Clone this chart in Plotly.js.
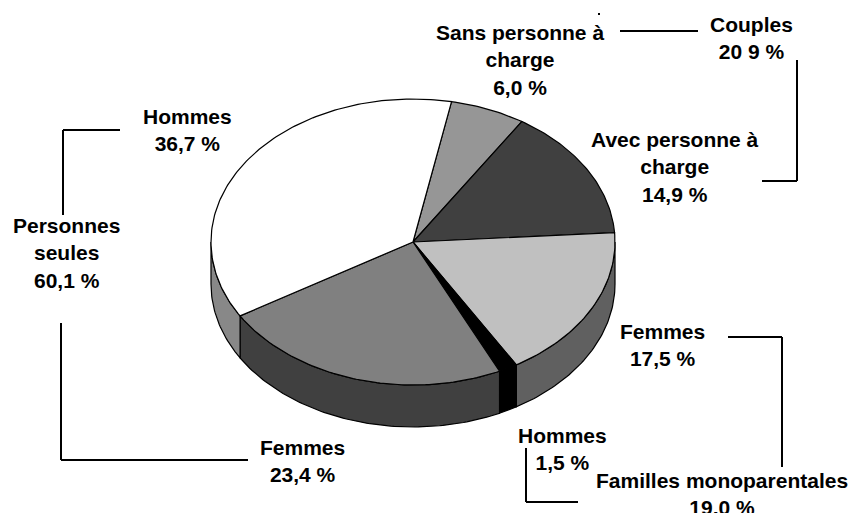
<!DOCTYPE html>
<html>
<head>
<meta charset="utf-8">
<script src="https://cdn.plot.ly/plotly-3.0.1.min.js"></script>
<style>html,body{margin:0;padding:0;background:#fff;}#chart{width:853px;height:513px;}</style>
</head>
<body>
<div id="chart"></div>
<script>
// ---- data ----
const sliceLabels = ["Sans personne à<br>charge", "Avec personne à<br>charge", "Femmes", "Hommes", "Femmes", "Hommes"];
const sliceValues = [6.0, 14.9, 17.5, 1.5, 23.4, 36.7];
const groupLabels = ["Couples", "Familles monoparentales", "Personnes seules"];
const groupValueTexts = ["20 9 %", "19,0 %", "60,1 %"];

// ---- styles / geometry ----
const topColors  = ["#969696", "#404040", "#c0c0c0", "#000000", "#808080", "#ffffff"];
const sideColors = ["#4b4b4b", "#202020", "#606060", "#000000", "#404040", "#888888"];
const cx = 413, cy = 242, rx = 202, ry = 143, depth = 42, startDeg = 11;
const labelPos = [[520, 60], [675, 167], [662, 345], [562, 449], [302, 461], [187, 130]];
const groupPos = [[751, 38], [722, 494], [66, 253]];

function pt(deg, dy) {
  const r = deg * Math.PI / 180;
  return [cx + rx * Math.sin(r), cy - ry * Math.cos(r) + (dy || 0)];
}
const total = sliceValues.reduce((a, b) => a + b, 0);
const bounds = [];
let acc = startDeg;
sliceValues.forEach(v => { const a0 = acc; acc += v / total * 360; bounds.push([a0, acc]); });

const traces = [];
// side faces (front half visible: 90..270 deg)
bounds.forEach((b, i) => {
  const a0 = Math.max(b[0], 90), a1 = Math.min(b[1], 270);
  if (a1 <= a0) return;
  const xs = [], ys = [];
  const n = Math.max(2, Math.ceil((a1 - a0) / 1));
  for (let k = 0; k <= n; k++) { const p = pt(a0 + (a1 - a0) * k / n); xs.push(p[0]); ys.push(p[1]); }
  for (let k = n; k >= 0; k--) { const p = pt(a0 + (a1 - a0) * k / n, depth); xs.push(p[0]); ys.push(p[1]); }
  xs.push(xs[0]); ys.push(ys[0]);
  traces.push({type: "scatter", mode: "lines", x: xs, y: ys, fill: "toself", fillcolor: sideColors[i],
    line: {color: "#000", width: 1.2}, hoverinfo: "skip", showlegend: false});
});
// top faces
bounds.forEach((b, i) => {
  const xs = [cx], ys = [cy];
  const n = Math.max(2, Math.ceil((b[1] - b[0]) / 1));
  for (let k = 0; k <= n; k++) { const p = pt(b[0] + (b[1] - b[0]) * k / n); xs.push(p[0]); ys.push(p[1]); }
  xs.push(cx); ys.push(cy);
  traces.push({type: "scatter", mode: "lines", x: xs, y: ys, fill: "toself", fillcolor: topColors[i],
    line: {color: "#000", width: 1.2}, hoverinfo: "skip", showlegend: false});
});

const fmt = v => v.toFixed(1).replace(".", ",") + " %";
const font = {family: "Liberation Sans, Arial, sans-serif", size: 21, color: "#000"};
const annotations = [];
sliceLabels.forEach((l, i) => annotations.push({x: labelPos[i][0], y: labelPos[i][1], xref: "x", yref: "y",
  text: "<b>" + l + "<br>" + fmt(sliceValues[i]) + "</b>", showarrow: false, xanchor: "center", yanchor: "middle", font: font}));
groupLabels.forEach((l, i) => annotations.push({x: groupPos[i][0], y: groupPos[i][1], xref: "x", yref: "y",
  text: "<b>" + l.replace("Personnes ", "Personnes<br>") + "<br>" + groupValueTexts[i] + "</b>", showarrow: false,
  xanchor: "center", yanchor: "middle", font: font}));

const ln = {color: "#000", width: 2};
const seg = (x0, y0, x1, y1) => ({type: "line", xref: "x", yref: "y", x0, y0, x1, y1, line: ln});
const shapes = [
  seg(620, 31, 698, 31), seg(762, 181, 797, 181), seg(797, 60, 797, 181),
  seg(63, 130, 120, 130), seg(63, 130, 63, 215),
  seg(61, 323, 61, 460), seg(61, 460, 248, 460),
  seg(728, 337, 782, 337), seg(782, 337, 782, 467),
  seg(526, 448, 526, 502), seg(526, 502, 578, 502),
  {type: "rect", xref: "x", yref: "y", x0: 598, y0: 13, x1: 600, y1: 15, fillcolor: "#000", line: {width: 0}}
];

const layout = {
  width: 853, height: 513, margin: {l: 0, r: 0, t: 0, b: 0},
  paper_bgcolor: "#fff", plot_bgcolor: "#fff", showlegend: false,
  xaxis: {range: [0, 853], visible: false, fixedrange: true},
  yaxis: {range: [513, 0], visible: false, fixedrange: true},
  annotations: annotations, shapes: shapes
};
Plotly.newPlot("chart", traces, layout, {displayModeBar: false, staticPlot: true});
</script>
</body>
</html>
